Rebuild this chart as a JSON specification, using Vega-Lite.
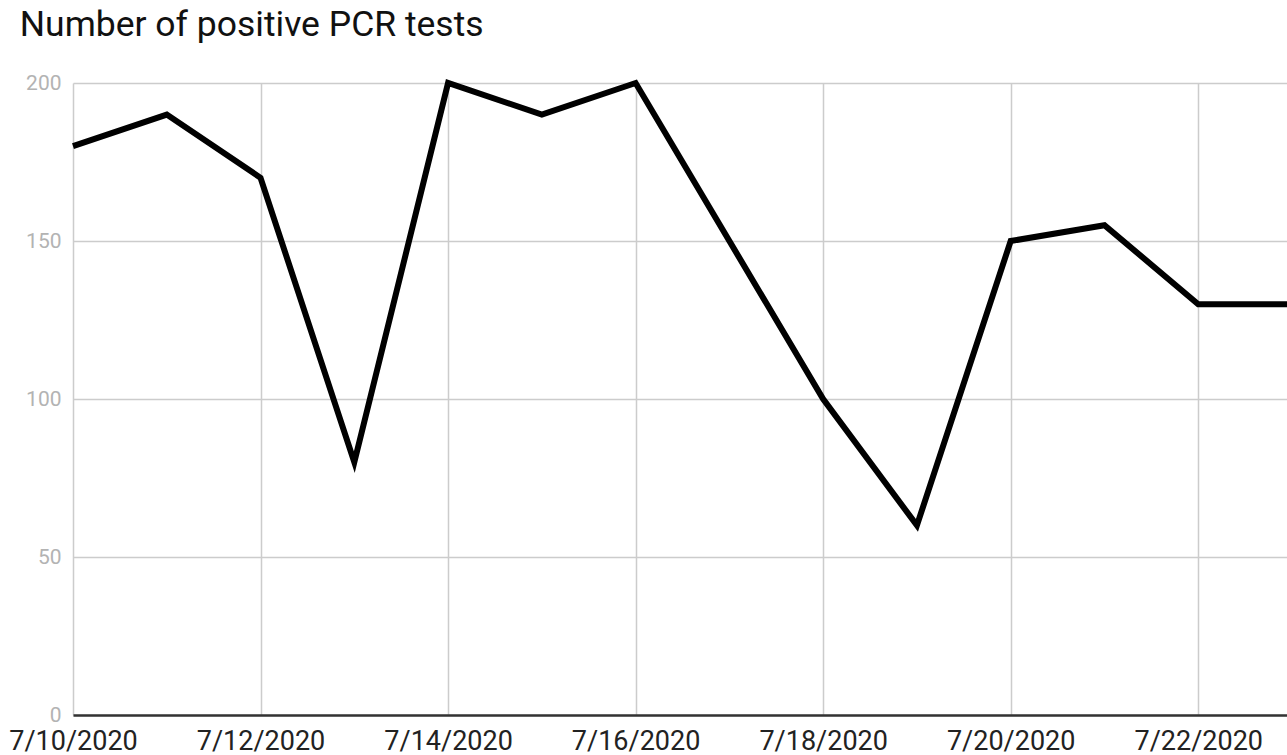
{
  "$schema": "https://vega.github.io/schema/vega-lite/v6.json",
  "autosize": {"type": "none"},
  "padding": {"left": 73, "top": 83, "right": 0, "bottom": 40},
  "width": 1219,
  "height": 632,
  "background": "white",
  "title": {
    "text": "Number of positive PCR tests",
    "anchor": "start",
    "font": "Roboto",
    "fontSize": 35.5,
    "fontWeight": "normal",
    "color": "#111111",
    "offset": 28,
    "dx": 11
  },
  "config": {
    "view": {"stroke": null},
    "font": "Roboto"
  },
  "data": {
    "values": [
      {"date": "2020-07-10", "positive": 180},
      {"date": "2020-07-11", "positive": 190},
      {"date": "2020-07-12", "positive": 170},
      {"date": "2020-07-13", "positive": 80},
      {"date": "2020-07-14", "positive": 200},
      {"date": "2020-07-15", "positive": 190},
      {"date": "2020-07-16", "positive": 200},
      {"date": "2020-07-17", "positive": 150},
      {"date": "2020-07-18", "positive": 100},
      {"date": "2020-07-19", "positive": 60},
      {"date": "2020-07-20", "positive": 150},
      {"date": "2020-07-21", "positive": 155},
      {"date": "2020-07-22", "positive": 130},
      {"date": "2020-07-23", "positive": 130}
    ]
  },
  "mark": {"type": "line", "color": "#000000", "strokeWidth": 6, "strokeJoin": "miter", "clip": false},
  "encoding": {
    "x": {
      "field": "date",
      "type": "temporal",
      "title": null,
      "scale": {"type": "utc", "domain": [{"year": 2020, "month": 7, "date": 10, "utc": true}, {"year": 2020, "month": 7, "date": 23, "utc": true}], "nice": false},
      "axis": {
        "values": [
          {"year": 2020, "month": 7, "date": 10, "utc": true},
          {"year": 2020, "month": 7, "date": 12, "utc": true},
          {"year": 2020, "month": 7, "date": 14, "utc": true},
          {"year": 2020, "month": 7, "date": 16, "utc": true},
          {"year": 2020, "month": 7, "date": 18, "utc": true},
          {"year": 2020, "month": 7, "date": 20, "utc": true},
          {"year": 2020, "month": 7, "date": 22, "utc": true}
        ],
        "labelExpr": "utcFormat(datum.value, '%-m/%-d/%Y')",
        "ticks": false,
        "grid": true,
        "gridColor": "#cccccc",
        "gridWidth": 1.5,
        "domain": true,
        "domainColor": "#333333",
        "domainWidth": 2.5,
        "labelFont": "Roboto",
        "labelFontSize": 27,
        "labelColor": "#222222",
        "labelPadding": 13,
        "labelBaseline": "top",
        "labelOverlap": false,
        "labelBound": false,
        "labelFlush": false
      }
    },
    "y": {
      "field": "positive",
      "type": "quantitative",
      "title": null,
      "scale": {"domain": [0, 200], "nice": false},
      "axis": {
        "values": [0, 50, 100, 150, 200],
        "ticks": false,
        "domain": false,
        "grid": true,
        "gridColor": "#cccccc",
        "gridWidth": 1.5,
        "labelFont": "Roboto",
        "labelFontSize": 21,
        "labelColor": "#b3b3b3",
        "labelPadding": 12,
        "labelBaseline": "middle"
      }
    }
  }
}
